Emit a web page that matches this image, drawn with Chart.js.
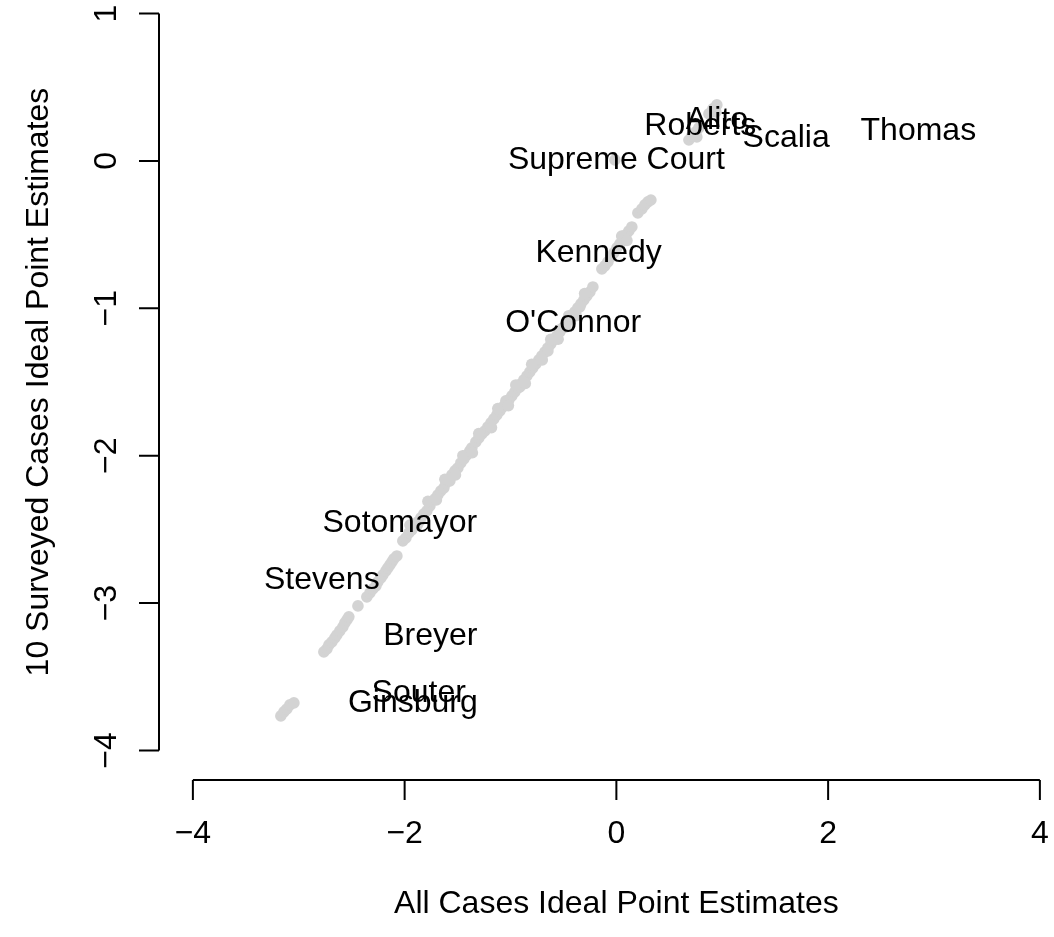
<!DOCTYPE html>
<html>
<head>
<meta charset="utf-8">
<title>Ideal Point Estimates</title>
<script src="https://cdn.jsdelivr.net/npm/chart.js@4"></script>
<style>
  html, body { margin: 0; padding: 0; background: #fff; overflow: hidden; }
  #chart { display: block; }
</style>
</head>
<body>
<canvas id="chart" width="1054" height="937"></canvas>
<script>
// ===================== DATA =====================

// All cases estimate (x) and 10 surveyed cases estimate (y)
const allCases = [
  -3.169, -3.140, -3.112, -3.084, -3.046,
  -2.763, -2.734, -2.715, -2.687, -2.659, -2.640, -2.612, -2.583, -2.564, -2.545, -2.527,
  -2.441,
  -2.357, -2.328, -2.300, -2.271, -2.253, -2.224, -2.205, -2.177, -2.158, -2.139, -2.120, -2.102, -2.073,
  -2.017, -1.988, -1.960, -1.932, -1.903, -1.875, -1.846, -1.818, -1.790, -1.761,
  -1.714, -1.686, -1.658, -1.629, -1.610, -1.582, -1.554, -1.525, -1.497, -1.469, -1.440, -1.412, -1.384, -1.365,
  -1.327, -1.299, -1.270, -1.242, -1.214, -1.185, -1.157, -1.129, -1.100, -1.072, -1.044, -1.015,
  -0.987, -0.959, -0.930, -0.902, -0.874, -0.845, -0.817, -0.789, -0.760, -0.732, -0.704, -0.675,
  -0.647, -0.619, -0.590, -0.562, -0.534, -0.505, -0.477, -0.449, -0.420, -0.392, -0.364, -0.335,
  -0.307, -0.279, -0.250, -0.222, -0.137,
  -0.109, -0.080, -0.052, -0.024, 0.005, 0.033, 0.061, 0.090, 0.118, 0.146,
  0.203, 0.241, 0.269, 0.298, 0.326, -0.014,
  0.685, 0.713, 0.751, 0.779, 0.760, 0.874, 0.911, 0.949, 0.940,
  -1.573, -1.195, -0.911, -0.647, -0.477, -0.345, -1.856, -1.044, -0.789, -0.534,
  -1.95, -1.78, -1.62, -1.45, -1.30, -1.12, -0.95, -0.80, -0.62, -0.45, -0.30, 0.05,
  -1.88, -1.70, -1.52, -1.36, -1.18, -1.02, -0.86, -0.70, -0.55, -0.38, 0.10
];
const surveyed = [
  -3.765, -3.738, -3.718, -3.690, -3.677,
  -3.331, -3.311, -3.283, -3.263, -3.236, -3.216, -3.188, -3.161, -3.134, -3.114, -3.093,
  -3.019,
  -2.958, -2.931, -2.904, -2.883, -2.856, -2.829, -2.809, -2.781, -2.761, -2.741, -2.720, -2.700, -2.680,
  -2.578, -2.558, -2.524, -2.503, -2.476, -2.449, -2.422, -2.395, -2.374, -2.340,
  -2.293, -2.266, -2.239, -2.218, -2.184, -2.157, -2.130, -2.103, -2.083, -2.049, -2.022, -1.994, -1.967, -1.947,
  -1.906, -1.879, -1.852, -1.832, -1.805, -1.777, -1.750, -1.723, -1.696, -1.669, -1.649, -1.621,
  -1.594, -1.567, -1.540, -1.513, -1.486, -1.459, -1.431, -1.404, -1.377, -1.350, -1.323, -1.296,
  -1.269, -1.241, -1.214, -1.187, -1.160, -1.133, -1.106, -1.079, -1.052, -1.024, -0.997, -0.970,
  -0.943, -0.916, -0.889, -0.855, -0.733,
  -0.712, -0.685, -0.651, -0.624, -0.590, -0.563, -0.536, -0.502, -0.475, -0.448,
  -0.353, -0.326, -0.298, -0.278, -0.265, 0.007,
  0.142, 0.170, 0.197, 0.224, 0.163, 0.319, 0.353, 0.380, 0.332,
  -2.171, -1.798, -1.533, -1.289, -1.126, -0.990, -2.442, -1.628, -1.384, -1.146,
  -2.47, -2.31, -2.16, -2.00, -1.85, -1.68, -1.52, -1.38, -1.21, -1.05, -0.90, -0.51,
  -2.47, -2.30, -2.13, -1.98, -1.81, -1.66, -1.51, -1.35, -1.21, -1.05, -0.54
];

// Text labels and where they sit
const justices = ['Thomas', 'Scalia', 'Alito', 'Roberts', 'Supreme Court', 'Kennedy',
  "O'Connor", 'Sotomayor', 'Stevens', 'Breyer', 'Souter', 'Ginsburg'];
const justiceX = [2.852, 1.604, 0.949, 0.793, 0.000, -0.168, -0.408, -2.045, -2.782, -1.757, -1.867, -1.922];
const justiceY = [0.217, 0.171, 0.292, 0.249, 0.022, -0.612, -1.089, -2.442, -2.829, -3.209, -3.599, -3.661];

const xTicks = [-4, -2, 0, 2, 4];
const yTicks = [-4, -3, -2, -1, 0, 1];

const xTitle = 'All Cases Ideal Point Estimates';
const yTitle = '10 Surveyed Cases Ideal Point Estimates';

// ===================== AXES & LABELS =====================

const FONT = '32px "Liberation Sans", Arial, Helvetica, sans-serif';
const tickLabel = v => (v < 0 ? '\u2212' + Math.abs(v) : String(v));

const rStyleAxes = {
  id: 'rStyleAxes',
  afterDatasetsDraw(chart) {
    const { ctx, chartArea, scales: { x, y } } = chart;
    ctx.save();
    ctx.fillStyle = '#000';
    ctx.strokeStyle = '#000';
    ctx.lineWidth = 2;
    ctx.font = FONT;

    // labels on top of the points
    ctx.textAlign = 'center';
    ctx.textBaseline = 'alphabetic';
    justices.forEach((name, i) => {
      ctx.fillText(name, x.getPixelForValue(justiceX[i]), y.getPixelForValue(justiceY[i]) + 11);
    });

    // x axis
    const bottom = chartArea.bottom;
    ctx.beginPath();
    ctx.moveTo(x.getPixelForValue(xTicks[0]), bottom);
    ctx.lineTo(x.getPixelForValue(xTicks[xTicks.length - 1]), bottom);
    xTicks.forEach(v => {
      const px = x.getPixelForValue(v);
      ctx.moveTo(px, bottom);
      ctx.lineTo(px, bottom + 20);
    });
    ctx.stroke();
    xTicks.forEach(v => ctx.fillText(tickLabel(v), x.getPixelForValue(v), bottom + 63));
    ctx.fillText(xTitle, x.getPixelForValue(0), bottom + 133);

    // y axis
    const left = chartArea.left;
    ctx.beginPath();
    ctx.moveTo(left, y.getPixelForValue(yTicks[0]));
    ctx.lineTo(left, y.getPixelForValue(yTicks[yTicks.length - 1]));
    yTicks.forEach(v => {
      const py = y.getPixelForValue(v);
      ctx.moveTo(left, py);
      ctx.lineTo(left - 20, py);
    });
    ctx.stroke();
    yTicks.forEach(v => {
      ctx.save();
      ctx.translate(left - 43, y.getPixelForValue(v));
      ctx.rotate(-Math.PI / 2);
      ctx.fillText(tickLabel(v), 0, 0);
      ctx.restore();
    });
    ctx.save();
    ctx.translate(left - 111, y.getPixelForValue(-1.5));
    ctx.rotate(-Math.PI / 2);
    ctx.fillText(yTitle, 0, 0);
    ctx.restore();

    ctx.restore();
  }
};

// ===================== CHART =====================

new Chart(document.getElementById('chart').getContext('2d'), {
  type: 'scatter',
  data: {
    datasets: [{
      data: allCases.map((v, i) => ({ x: v, y: surveyed[i] })),
      backgroundColor: '#d3d3d3',
      borderWidth: 0,
      pointRadius: 5.8,
      pointHoverRadius: 5.8
    }]
  },
  options: {
    responsive: false,
    animation: false,
    devicePixelRatio: 1,
    layout: { autoPadding: false, padding: { left: 159, top: 0, right: 0, bottom: 157 } },
    scales: {
      x: { type: 'linear', min: -4.32, max: 4.1334, display: false },
      y: { type: 'linear', min: -4.2, max: 1.0917, display: false }
    },
    plugins: { legend: { display: false }, tooltip: { enabled: false } }
  },
  plugins: [rStyleAxes]
});
</script>
</body>
</html>
